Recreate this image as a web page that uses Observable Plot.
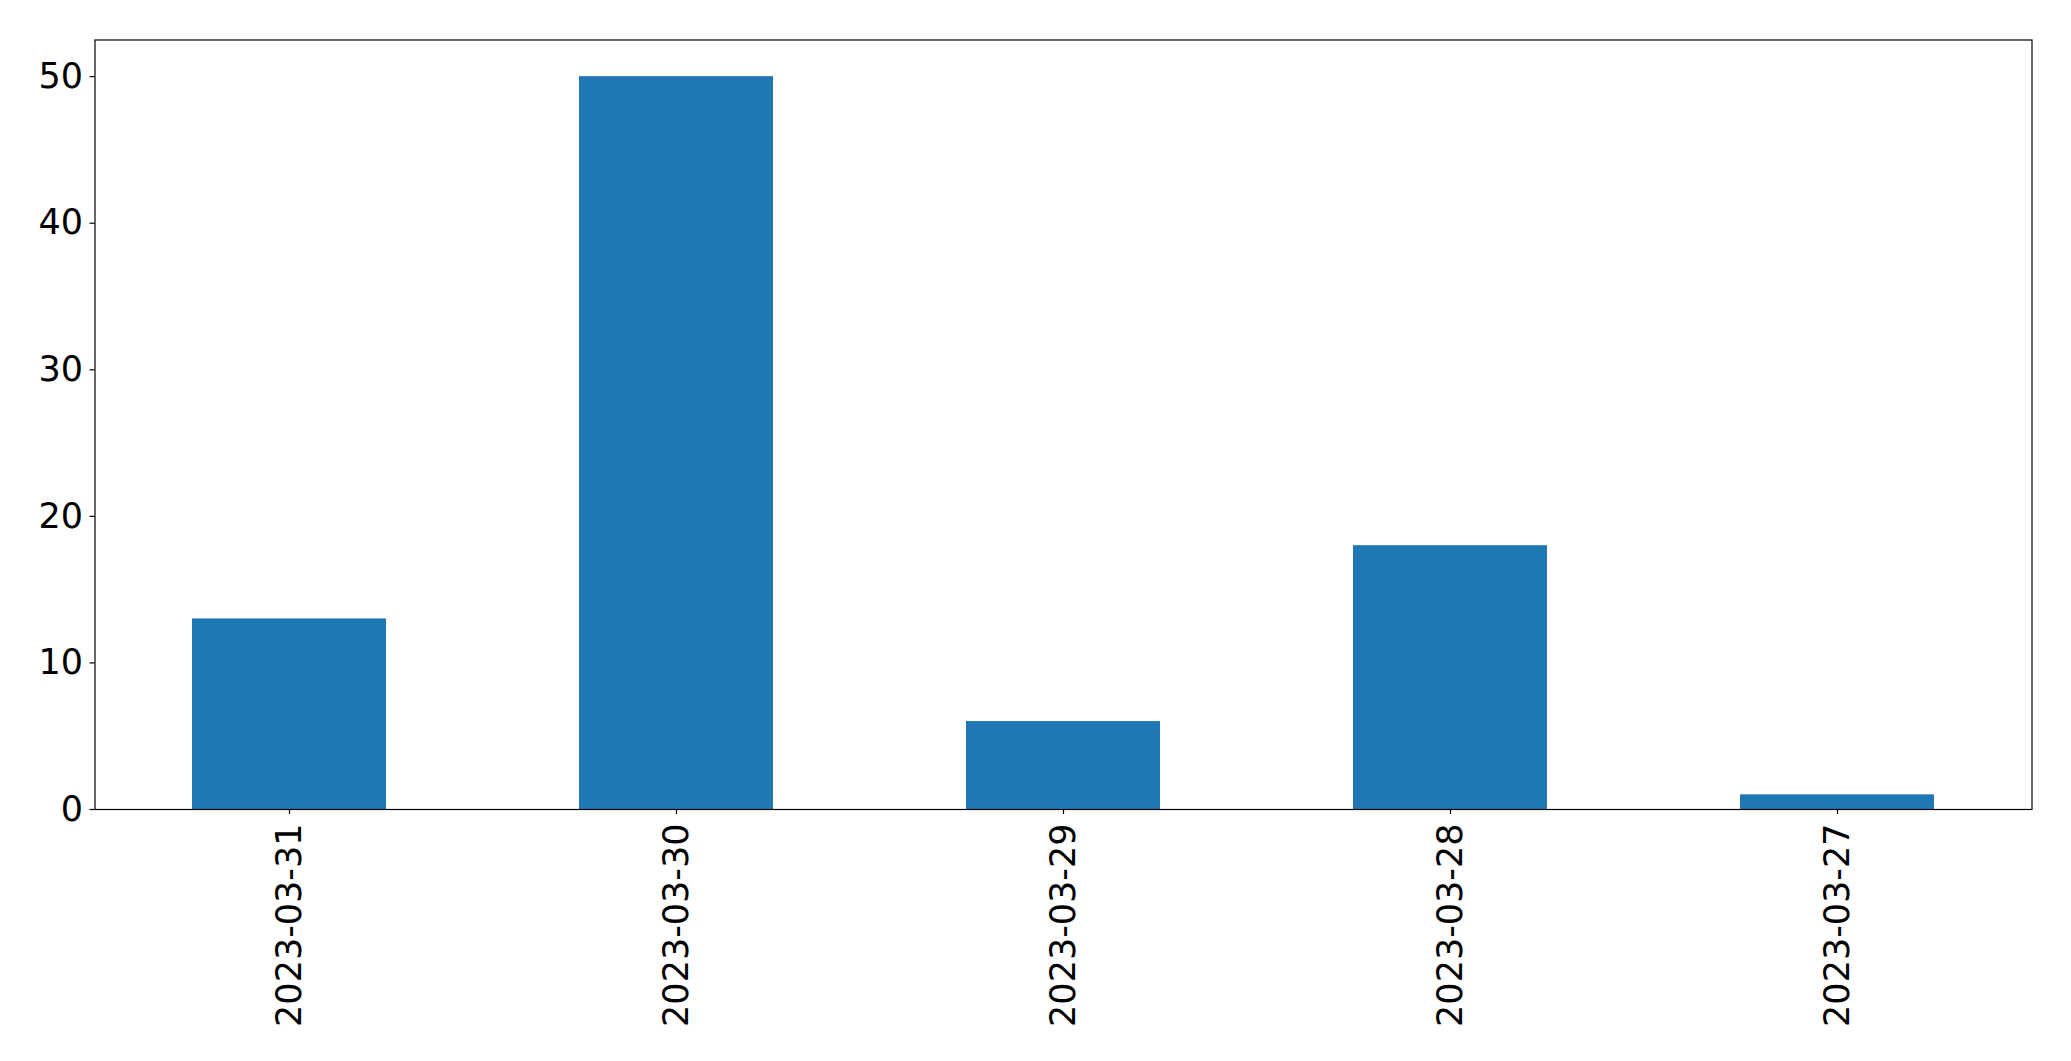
<!DOCTYPE html>
<html>
<head>
<meta charset="utf-8">
<script src="https://cdn.jsdelivr.net/npm/d3@7"></script>
<script src="https://cdn.jsdelivr.net/npm/@observablehq/plot@0.6"></script>
<style>
  html, body { margin: 0; padding: 0; background: white; }
  #chart svg { display: block; }
</style>
</head>
<body>
<div id="chart"></div>
<script>
const dates = ["2023-03-31", "2023-03-30", "2023-03-29", "2023-03-28", "2023-03-27"];
const counts = [13, 50, 6, 18, 1];
const yTicks = [0, 10, 20, 30, 40, 50];

const data = dates.map((d, i) => ({date: d, count: counts[i]}));

const chart = Plot.plot({
  width: 2071,
  height: 1061,
  marginLeft: 94.5,
  marginRight: 39.5,
  marginTop: 39.5,
  marginBottom: 252,
  style: {
    fontFamily: "'DejaVu Sans', sans-serif",
    fontSize: "35px",
    color: "black",
    background: "white",
    overflow: "visible"
  },
  x: {type: "band", domain: dates, paddingInner: 0.5, paddingOuter: 0.25, align: 0.5, label: null},
  y: {domain: [0, 52.5], label: null},
  marks: [
    Plot.barY(data, {x: "date", y: "count", fill: "#1f77b4"}),
    Plot.frame({stroke: "black", strokeWidth: 1.2, strokeOpacity: 1}),
    Plot.axisY({ticks: yTicks, tickSize: 5, tickPadding: 7, fontSize: 35, tickFormat: d => String(d), label: null, stroke: "black", strokeWidth: 1.2, strokeOpacity: 1}),
    Plot.axisX({tickRotate: -90, tickSize: 5, tickPadding: 9, fontSize: 35, label: null, stroke: "black", strokeWidth: 1.2, strokeOpacity: 1})
  ]
});
document.getElementById("chart").appendChild(chart);
</script>
</body>
</html>
